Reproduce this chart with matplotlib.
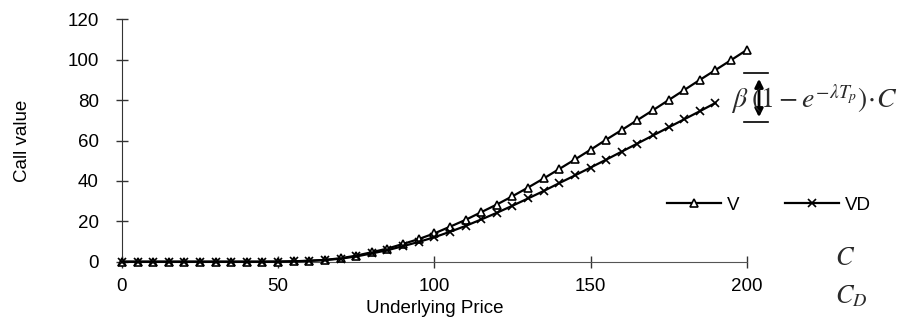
#!/usr/bin/env python3

import matplotlib
matplotlib.use('Agg')
import matplotlib.pyplot as plt
from matplotlib.lines import Line2D


#------------------------------------------------------------------------------
# Data
#------------------------------------------------------------------------------

price_v = [0, 5, 10, 15, 20, 25, 30, 35, 40, 45, 50, 55, 60, 65, 70, 75, 80,
           85, 90, 95, 100, 105, 110, 115, 120, 125, 130, 135, 140, 145, 150,
           155, 160, 165, 170, 175, 180, 185, 190, 195, 200]
value_v = [0, 0, 0, 0, 0, 0, 0, 0, 0, 0, 0.05, 0.2, 0.5, 0.9, 1.7, 3.0, 4.7,
           6.5, 8.8, 11.2, 14.0, 17.3, 20.7, 24.5, 28.3, 32.4, 36.7, 41.2,
           45.9, 50.6, 55.4, 60.4, 65.2, 70.1, 75.0, 80.0, 85.0, 90.0, 94.9,
           99.8, 104.8]

price_vd = [0, 5, 10, 15, 20, 25, 30, 35, 40, 45, 50, 55, 60, 65, 70, 75, 80,
            85, 90, 95, 100, 105, 110, 115, 120, 125, 130, 135, 140, 145, 150,
            155, 160, 165, 170, 175, 180, 185, 190]
value_vd = [0, 0, 0, 0, 0, 0, 0, 0, 0, 0, 0.04, 0.17, 0.4, 0.8, 1.5, 2.6, 4.1,
            5.7, 7.7, 9.8, 12.1, 14.8, 17.7, 20.9, 24.2, 27.7, 31.3, 35.0,
            38.9, 42.7, 46.6, 50.5, 54.5, 58.5, 62.5, 66.5, 70.5, 74.5, 78.6]

x_ticks = [0, 50, 100, 150, 200]
y_ticks = [0, 20, 40, 60, 80, 100, 120]


#------------------------------------------------------------------------------
# Plot
#------------------------------------------------------------------------------

plt.rcParams['font.family'] = ['Liberation Sans', 'DejaVu Sans']
plt.rcParams['mathtext.fontset'] = 'stix'

W, H = 916, 331
FS = 13.5
fig = plt.figure(figsize=(W / 100, H / 100), dpi=100)
ax = fig.add_axes([121.9 / W, 1 - 261.7 / H, (746.7 - 121.9) / W, (261.7 - 19.3) / H])

ax.plot(price_v, value_v, color='black', lw=1.6, marker='^', ms=6,
        mfc='white', mec='black', mew=1.2, clip_on=False, label='V', zorder=3)
ax.plot(price_vd, value_vd, color='black', lw=1.6, marker='x', ms=6,
        mec='black', mew=1.2, clip_on=False, label='VD', zorder=3)

ax.set_xlim(0, 200)
ax.set_ylim(0, 120)
ax.set_xticks(x_ticks)
ax.set_yticks(y_ticks)

for side in ['top', 'right']:
    ax.spines[side].set_visible(False)
ax.spines['left'].set_color('#333333')
ax.spines['bottom'].set_color('#555555')
ax.tick_params(direction='inout', length=9, width=1, colors='#333333',
               labelcolor='black', labelsize=FS)
ax.tick_params(axis='y', pad=12)
ax.tick_params(axis='x', pad=7)

ax.set_ylabel('Call value', fontsize=FS, labelpad=26)
ax.set_xlabel('Underlying Price', fontsize=FS, labelpad=4)

ax.legend(loc='center left', bbox_to_anchor=(667 / W, 1 - 205 / H),
          bbox_transform=fig.transFigure, frameon=False, ncol=2,
          fontsize=FS, handlelength=2.9, handletextpad=0.3,
          columnspacing=2.4, borderpad=0, borderaxespad=0, numpoints=1)

# Bracket with double arrow and formula
for yy in [72.7, 121.7]:
    fig.add_artist(Line2D([744 / W, 768 / W], [1 - yy / H, 1 - yy / H],
                          color='black', lw=1.2))

fig.text(731 / W, 1 - 100 / H,
         r'$\beta\;\left(1-e^{-\lambda T_p}\right)\!\cdot\! C$',
         fontsize=20, color='#2a2a2a', ha='left', va='center')

ax.annotate('', xy=(759, H - 120), xytext=(759, H - 76),
            xycoords='figure pixels', textcoords='figure pixels',
            arrowprops=dict(arrowstyle='<|-|>', color='black', lw=2,
                            mutation_scale=12))

fig.text(835 / W, 1 - 258 / H, r'$C$', fontsize=19, color='#2a2a2a',
         ha='left', va='center')
fig.text(835 / W, 1 - 296 / H, r'$C_D$', fontsize=19, color='#2a2a2a',
         ha='left', va='center')

fig.savefig('out.png', dpi=100)
plt.close(fig)
